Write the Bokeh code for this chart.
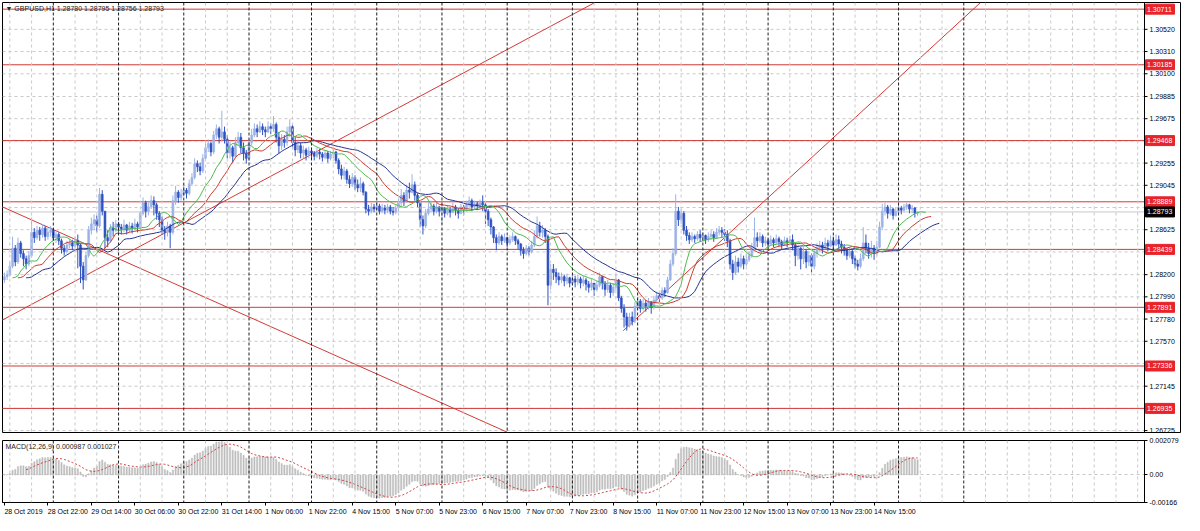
import numpy as np
import pandas as pd
from bokeh.plotting import figure
from bokeh.models import Range1d, FixedTicker, Span, Label, PrintfTickFormatter, ColumnDataSource
from bokeh.layouts import column
from bokeh.embed import file_html
from bokeh.resources import INLINE
from bokeh.core.properties import value

# ---------------- data ----------------
symbol_title = "\u25bc GBPUSD,H1 1.28780 1.28795 1.28756 1.28793"
macd_title = "MACD(12,26,9) 0.000987 0.001027"

first_open = 1.2815
close = [
    1.2818, 1.2820, 1.2828, 1.2845, 1.2832, 1.2850, 1.2840, 1.2835, 1.2830, 1.2838,
    1.2860, 1.2855, 1.2862, 1.2858, 1.2864, 1.2856, 1.2860, 1.2862, 1.2855, 1.2858,
    1.2852, 1.2845, 1.2842, 1.2848, 1.2850, 1.2847, 1.2852, 1.2848, 1.2828, 1.2815,
    1.2838, 1.2862, 1.2868, 1.2872, 1.2866, 1.2896, 1.2880, 1.2855, 1.2852, 1.2864,
    1.2862, 1.2868, 1.2865, 1.2863, 1.2867, 1.2862, 1.2866, 1.2864, 1.2868, 1.2865,
    1.2878, 1.2888, 1.2880, 1.2884, 1.2890, 1.2886, 1.2878, 1.2872, 1.2862, 1.2860,
    1.2866, 1.2860, 1.2890, 1.2898, 1.2893, 1.2896, 1.2900, 1.2897, 1.2906, 1.2912,
    1.2925, 1.2922, 1.2918, 1.2930, 1.2940, 1.2944, 1.2936, 1.2952, 1.2958, 1.2950,
    1.2955, 1.2948, 1.2935, 1.2940, 1.2932, 1.2945, 1.2950, 1.2940, 1.2935, 1.2930,
    1.2945, 1.2952, 1.2958, 1.2955, 1.2960, 1.2957, 1.2955, 1.2960, 1.2958, 1.2962,
    1.2950, 1.2942, 1.2948, 1.2945, 1.2955, 1.2960, 1.2945, 1.2938, 1.2942, 1.2935,
    1.2938, 1.2933, 1.2937, 1.2935, 1.2932, 1.2936, 1.2934, 1.2931, 1.2935, 1.2930,
    1.2934, 1.2936, 1.2928, 1.2920, 1.2914, 1.2918, 1.2910, 1.2906, 1.2912, 1.2905,
    1.2902, 1.2906, 1.2898, 1.2882, 1.2880, 1.2884, 1.2882, 1.2885, 1.2880, 1.2883,
    1.2881, 1.2884, 1.2880, 1.2879, 1.2883, 1.2888, 1.2895, 1.2890, 1.2900, 1.2898,
    1.2905, 1.2895, 1.2888, 1.2872, 1.2866, 1.2878, 1.2882, 1.2885, 1.2880, 1.2884,
    1.2880, 1.2883, 1.2878, 1.2882, 1.2879, 1.2884, 1.2881, 1.2878, 1.2884, 1.2882,
    1.2886, 1.2890, 1.2884, 1.2887, 1.2885, 1.2888, 1.2886, 1.2880, 1.2872, 1.2865,
    1.2855, 1.2850, 1.2856, 1.2852, 1.2855, 1.2850, 1.2853, 1.2856, 1.2852, 1.2849,
    1.2843, 1.2840, 1.2845, 1.2842, 1.2848, 1.2856, 1.2866, 1.2860, 1.2862, 1.2856,
    1.2810, 1.2825, 1.2822, 1.2818, 1.2815, 1.2818, 1.2814, 1.2817, 1.2812, 1.2816,
    1.2813, 1.2816, 1.2812, 1.2815, 1.2811, 1.2808, 1.2812, 1.2806, 1.2810, 1.2818,
    1.2812, 1.2806, 1.2810, 1.2803, 1.2808, 1.2815, 1.2798, 1.2788, 1.2780, 1.2772,
    1.2780, 1.2776, 1.2790, 1.2795, 1.2788, 1.2793, 1.2790, 1.2794, 1.2789, 1.2796,
    1.2800, 1.2798, 1.2805, 1.2803, 1.2815, 1.2830, 1.2840, 1.2880, 1.2872, 1.2878,
    1.2862, 1.2857, 1.2853, 1.2856, 1.2854, 1.2858, 1.2855, 1.2857, 1.2853, 1.2856,
    1.2858, 1.2855, 1.2860, 1.2862, 1.2860, 1.2858, 1.2852, 1.2830, 1.2822, 1.2832,
    1.2828, 1.2835, 1.2830, 1.2834, 1.2838, 1.2845, 1.2855, 1.2852, 1.2856, 1.2850,
    1.2852, 1.2849, 1.2853, 1.2850, 1.2854, 1.2851, 1.2848, 1.2852, 1.2850, 1.2853,
    1.2848, 1.2838, 1.2845, 1.2835, 1.2842, 1.2832, 1.2838, 1.2828, 1.2840, 1.2845,
    1.2848, 1.2845, 1.2850, 1.2847, 1.2852, 1.2848, 1.2853, 1.2849, 1.2846, 1.2843,
    1.2838, 1.2842, 1.2835, 1.2830, 1.2828, 1.2835, 1.2850, 1.2845, 1.2840, 1.2845,
    1.2840, 1.2846, 1.2865, 1.2880, 1.2884, 1.2878, 1.2882, 1.2876, 1.2880, 1.2883,
    1.2881, 1.2884, 1.2886, 1.2882, 1.2883, 1.2878, 1.28793,
]
high = [
    1.2822, 1.2824, 1.2832, 1.2856, 1.2848, 1.2855, 1.2852, 1.2843, 1.2838, 1.2842,
    1.2874, 1.2864, 1.2866, 1.2865, 1.2868, 1.2866, 1.2864, 1.2866, 1.2864, 1.2861,
    1.2860, 1.2854, 1.2848, 1.2852, 1.2854, 1.2853, 1.2856, 1.2858, 1.2850, 1.2832,
    1.2842, 1.2866, 1.2874, 1.2877, 1.2876, 1.2902, 1.2900, 1.2880, 1.2862, 1.2868,
    1.2870, 1.2872, 1.2870, 1.2868, 1.2872, 1.2868, 1.2870, 1.2869, 1.2873, 1.2870,
    1.2880, 1.2893, 1.2890, 1.2888, 1.2895, 1.2894, 1.2888, 1.2880, 1.2875, 1.2866,
    1.2870, 1.2868, 1.2895, 1.2904, 1.2900, 1.2901, 1.2904, 1.2902, 1.2910, 1.2916,
    1.2930, 1.2928, 1.2926, 1.2934, 1.2944, 1.2948, 1.2946, 1.2956, 1.2962, 1.2960,
    1.2975, 1.2960, 1.2952, 1.2946, 1.2942, 1.2950, 1.2955, 1.2954, 1.2945, 1.2938,
    1.2948, 1.2958, 1.2963, 1.2962, 1.2965, 1.2963, 1.2960, 1.2965, 1.2963, 1.2970,
    1.2964, 1.2955, 1.2953, 1.2952, 1.2960, 1.2967, 1.2962, 1.2950, 1.2948, 1.2945,
    1.2942, 1.2940, 1.2941, 1.2940, 1.2937, 1.2940, 1.2939, 1.2936, 1.2938, 1.2937,
    1.2937, 1.2940, 1.2937, 1.2930, 1.2924, 1.2922, 1.2920, 1.2914, 1.2916, 1.2914,
    1.2910, 1.2912, 1.2908, 1.2899, 1.2886, 1.2888, 1.2887, 1.2889, 1.2887, 1.2887,
    1.2886, 1.2887, 1.2886, 1.2884, 1.2886, 1.2892, 1.2901, 1.2898, 1.2905, 1.2907,
    1.2915, 1.2908, 1.2897, 1.2889, 1.2876, 1.2882, 1.2889, 1.2890, 1.2887, 1.2888,
    1.2885, 1.2887, 1.2884, 1.2886, 1.2884, 1.2888, 1.2886, 1.2883, 1.2887, 1.2886,
    1.2890, 1.2894, 1.2892, 1.2890, 1.2889, 1.2891, 1.2895, 1.2888, 1.2882, 1.2874,
    1.2866, 1.2858, 1.2860, 1.2858, 1.2859, 1.2856, 1.2857, 1.2860, 1.2857, 1.2854,
    1.2850, 1.2846, 1.2848, 1.2847, 1.2852, 1.2862, 1.2875, 1.2870, 1.2867, 1.2864,
    1.2858, 1.2830, 1.2830, 1.2826, 1.2822, 1.2822, 1.2820, 1.2821, 1.2818, 1.2820,
    1.2819, 1.2820, 1.2818, 1.2819, 1.2817, 1.2814, 1.2816, 1.2812, 1.2814, 1.2822,
    1.2819, 1.2814, 1.2815, 1.2812, 1.2812, 1.2820, 1.2816, 1.2800, 1.2792, 1.2784,
    1.2784, 1.2785, 1.2794, 1.2799, 1.2797, 1.2797, 1.2796, 1.2798, 1.2795, 1.2800,
    1.2804, 1.2803, 1.2808, 1.2808, 1.2818, 1.2834, 1.2845, 1.2896, 1.2884, 1.2882,
    1.2880, 1.2866, 1.2860, 1.2860, 1.2858, 1.2861, 1.2862, 1.2860, 1.2858, 1.2860,
    1.2862, 1.2861, 1.2864, 1.2866, 1.2865, 1.2863, 1.2862, 1.2854, 1.2834, 1.2838,
    1.2836, 1.2840, 1.2838, 1.2840, 1.2842, 1.2850, 1.2874, 1.2860, 1.2860, 1.2858,
    1.2856, 1.2854, 1.2857, 1.2855, 1.2858, 1.2856, 1.2853, 1.2856, 1.2855, 1.2857,
    1.2858, 1.2850, 1.2848, 1.2846, 1.2846, 1.2844, 1.2842, 1.2840, 1.2843, 1.2850,
    1.2852, 1.2851, 1.2855, 1.2853, 1.2857, 1.2856, 1.2858, 1.2857, 1.2852, 1.2849,
    1.2845, 1.2846, 1.2844, 1.2838, 1.2834, 1.2840, 1.2865, 1.2858, 1.2850, 1.2852,
    1.2848, 1.2852, 1.2870, 1.2887, 1.2888, 1.2886, 1.2886, 1.2883, 1.2884, 1.2886,
    1.2885, 1.2887, 1.2888, 1.2887, 1.2886, 1.2884, 1.28795,
]
low = [
    1.2812, 1.2815, 1.2818, 1.2826, 1.2828, 1.2830, 1.2836, 1.2828, 1.2825, 1.2828,
    1.2836, 1.2850, 1.2853, 1.2852, 1.2855, 1.2852, 1.2853, 1.2856, 1.2852, 1.2850,
    1.2848, 1.2840, 1.2838, 1.2840, 1.2845, 1.2843, 1.2845, 1.2826, 1.2812, 1.2806,
    1.2814, 1.2836, 1.2858, 1.2862, 1.2860, 1.2864, 1.2876, 1.2845, 1.2846, 1.2850,
    1.2856, 1.2860, 1.2860, 1.2858, 1.2860, 1.2858, 1.2860, 1.2859, 1.2862, 1.2860,
    1.2862, 1.2876, 1.2874, 1.2876, 1.2882, 1.2876, 1.2872, 1.2865, 1.2858, 1.2853,
    1.2856, 1.2845, 1.2858, 1.2886, 1.2888, 1.2890, 1.2894, 1.2892, 1.2895, 1.2904,
    1.2910, 1.2917, 1.2914, 1.2916, 1.2928, 1.2936, 1.2932, 1.2934, 1.2948, 1.2944,
    1.2946, 1.2944, 1.2930, 1.2930, 1.2926, 1.2930, 1.2942, 1.2935, 1.2928, 1.2925,
    1.2928, 1.2942, 1.2950, 1.2950, 1.2954, 1.2952, 1.2950, 1.2954, 1.2953, 1.2955,
    1.2945, 1.2935, 1.2938, 1.2940, 1.2942, 1.2950, 1.2940, 1.2932, 1.2935, 1.2930,
    1.2930, 1.2928, 1.2930, 1.2930, 1.2928, 1.2930, 1.2929, 1.2927, 1.2929, 1.2926,
    1.2928, 1.2930, 1.2925, 1.2915, 1.2910, 1.2910, 1.2906, 1.2902, 1.2903, 1.2900,
    1.2898, 1.2898, 1.2895, 1.2878, 1.2876, 1.2878, 1.2879, 1.2880, 1.2877, 1.2878,
    1.2877, 1.2878, 1.2877, 1.2876, 1.2877, 1.2880, 1.2884, 1.2885, 1.2888, 1.2892,
    1.2897, 1.2890, 1.2884, 1.2865, 1.2858, 1.2864, 1.2876, 1.2879, 1.2876, 1.2878,
    1.2875, 1.2868, 1.2874, 1.2876, 1.2874, 1.2878, 1.2876, 1.2873, 1.2877, 1.2876,
    1.2880, 1.2883, 1.2880, 1.2882, 1.2881, 1.2883, 1.2880, 1.2868, 1.2866, 1.2858,
    1.2850, 1.2843, 1.2848, 1.2848, 1.2850, 1.2846, 1.2848, 1.2851, 1.2848, 1.2844,
    1.2838, 1.2835, 1.2838, 1.2838, 1.2840, 1.2846, 1.2854, 1.2856, 1.2855, 1.2850,
    1.2791, 1.2806, 1.2815, 1.2812, 1.2810, 1.2812, 1.2809, 1.2811, 1.2808, 1.2810,
    1.2808, 1.2810, 1.2807, 1.2809, 1.2805, 1.2803, 1.2805, 1.2800, 1.2804, 1.2808,
    1.2806, 1.2800, 1.2803, 1.2798, 1.2800, 1.2805, 1.2795, 1.2784, 1.2770, 1.2767,
    1.2770, 1.2772, 1.2774, 1.2787, 1.2784, 1.2786, 1.2785, 1.2787, 1.2783, 1.2787,
    1.2793, 1.2794, 1.2796, 1.2799, 1.2802, 1.2814, 1.2828, 1.2838, 1.2866, 1.2868,
    1.2858, 1.2852, 1.2849, 1.2851, 1.2850, 1.2852, 1.2851, 1.2852, 1.2849, 1.2851,
    1.2853, 1.2851, 1.2854, 1.2857, 1.2855, 1.2852, 1.2846, 1.2825, 1.2815, 1.2820,
    1.2822, 1.2826, 1.2825, 1.2828, 1.2832, 1.2836, 1.2843, 1.2846, 1.2850, 1.2846,
    1.2847, 1.2845, 1.2848, 1.2846, 1.2849, 1.2847, 1.2844, 1.2847, 1.2846, 1.2848,
    1.2843, 1.2828, 1.2834, 1.2825, 1.2830, 1.2826, 1.2828, 1.2822, 1.2825, 1.2836,
    1.2842, 1.2840, 1.2844, 1.2842, 1.2846, 1.2843, 1.2847, 1.2844, 1.2840, 1.2838,
    1.2834, 1.2836, 1.2830, 1.2826, 1.2824, 1.2826, 1.2833, 1.2840, 1.2835, 1.2836,
    1.2834, 1.2838, 1.2845, 1.2862, 1.2876, 1.2873, 1.2876, 1.2872, 1.2875, 1.2878,
    1.2877, 1.2879, 1.2881, 1.2878, 1.2878, 1.2874, 1.28756,
]

time_labels = [
    "28 Oct 2019", "28 Oct 22:00", "29 Oct 14:00", "30 Oct 06:00", "30 Oct 22:00",
    "31 Oct 14:00", "1 Nov 06:00", "1 Nov 22:00", "4 Nov 15:00", "5 Nov 07:00",
    "5 Nov 23:00", "6 Nov 15:00", "7 Nov 07:00", "7 Nov 23:00", "8 Nov 15:00",
    "11 Nov 07:00", "11 Nov 23:00", "12 Nov 15:00", "13 Nov 07:00", "13 Nov 23:00",
    "14 Nov 15:00",
]
time_label_bars = [0, 16, 32, 48, 64, 80, 96, 112, 128, 144, 160, 176, 192, 208, 224,
                   240, 256, 272, 288, 304, 320]
day_start_bars = [18, 42, 66, 90, 113, 137, 161, 185, 209, 233, 257, 281, 305, 329, 353]

price_ticks = [1.30520, 1.30310, 1.30100, 1.29885, 1.29675, 1.29465, 1.29255, 1.29045,
               1.28835, 1.28625, 1.28415, 1.28200, 1.27990, 1.27780, 1.27570, 1.27360,
               1.27145, 1.26935, 1.26725]
level_prices = [1.30711, 1.30185, 1.29468, 1.28889, 1.28439, 1.27891, 1.27336, 1.26935]
last_price = 1.28793

macd_ticks = [-0.00166, 0.0, 0.002079]
macd_tick_labels = ["-0.00166", "0.00", "0.002079"]

# trend lines: (bar index pair, price pair)
trend_bars = [[-1.5, 217.0], [-1.5, 185.0], [227.7, 359.0]]
trend_prices = [[1.2776, 1.3077], [1.2885, 1.2671], [1.2767, 1.3077]]

# ---------------- styles / geometry ----------------
FONT = "Liberation Sans"
FS = "7px"
BULL = "#9cb2e6"
BEAR = "#2f52c2"
RED_LINE = "#d23a36"
RED_BOX = "#e8232a"
GRID = "#c8c8c8"

FRAME_W = 1142      # width of the data area (both panels)
STRIP_W = 36        # price-scale strip, kept inside the main panel frame
RIGHT_W = 38
MAIN_H = 430
X_START, X_END = -0.7, 419.5
BARS_PER_PX = (X_END - X_START) / FRAME_W
X_END_STRIP = X_END + STRIP_W * BARS_PER_PX

n = len(close)
assert len(high) == n and len(low) == n
idx = np.arange(n)
c_arr = np.array(close)
o_arr = np.array([first_open] + close[:-1])
h_arr = np.array(high)
l_arr = np.array(low)

# Alligator (SMMA of median price, shifted forward)
med = pd.Series((h_arr + l_arr) / 2.0)
def smma(s, period):
    return s.ewm(alpha=1.0 / period, adjust=False).mean().to_numpy()
jaw = smma(med, 13)
teeth = smma(med, 8)
lips = smma(med, 5)

# MACD(12,26,9)
cs = pd.Series(c_arr)
macd = (cs.ewm(span=12, adjust=False).mean() - cs.ewm(span=26, adjust=False).mean()).to_numpy()
signal = pd.Series(macd).rolling(9).mean().to_numpy()

def style_axis(ax):
    ax.axis_line_color = "black"
    ax.major_tick_line_color = "black"
    ax.major_tick_out = 3
    ax.major_tick_in = 0
    ax.minor_tick_out = 0
    ax.minor_tick_in = 0
    ax.major_label_text_font = FONT
    ax.major_label_text_font_size = FS
    ax.major_label_text_color = "black"
    ax.major_label_standoff = 2

# vertical grid positions: light every 8 bars, dark dashed day separators
light_x = [day_start_bars[0] - 16, day_start_bars[0] - 8]
for s in day_start_bars:
    light_x += [s + 8, s + 16]
v = day_start_bars[-1] + 24
while v < X_END:
    light_x.append(v)
    v += 8

def add_vgrid(p):
    for lx in light_x:
        p.add_layout(Span(location=lx, dimension="height", line_color=GRID,
                          line_dash="3 3", line_width=1))
    for s in day_start_bars:
        p.add_layout(Span(location=s, dimension="height", line_color="#1e1e1e",
                          line_dash="3 2", line_width=1))

# ---------------- main price panel ----------------
p1 = figure(frame_width=FRAME_W + STRIP_W, frame_height=MAIN_H,
            x_range=Range1d(X_START, X_END_STRIP),
            y_range=Range1d(1.26707, 1.30774), output_backend="svg",
            toolbar_location=None, x_axis_location=None, y_axis_location="right",
            min_border_left=2, min_border_right=2, min_border_top=2, min_border_bottom=3,
            background_fill_color="white", border_fill_color="white",
            outline_line_color="black")
p1.yaxis.ticker = FixedTicker(ticks=price_ticks)
p1.yaxis.formatter = PrintfTickFormatter(format="%.5f")
style_axis(p1.yaxis)
# the price scale sits in the strip at the right end of the frame
p1.yaxis.axis_line_color = None
p1.yaxis.major_tick_line_color = None
p1.yaxis.major_tick_out = 0
p1.yaxis.major_label_standoff = -(STRIP_W - 5)
p1.xgrid.visible = False
p1.ygrid.visible = False

# horizontal grid restricted to the data area
p1.segment(x0=X_START, x1=X_END, y0=price_ticks, y1=price_ticks,
           line_color=GRID, line_dash="3 3", line_width=1)
add_vgrid(p1)

# current price line and horizontal levels (data area only)
p1.segment(x0=X_START, x1=X_END, y0=[last_price], y1=[last_price],
           line_color="#c8c8c8", line_width=1)
p1.segment(x0=X_START, x1=X_END, y0=level_prices, y1=level_prices,
           line_color=RED_LINE, line_width=1)

# trend lines
for tb, tp in zip(trend_bars, trend_prices):
    p1.line(tb, tp, line_color=RED_LINE, line_width=1)

# candles
src = ColumnDataSource(dict(
    x=idx, h=h_arr, l=l_arr,
    top=np.maximum(o_arr, c_arr), bot=np.minimum(o_arr, c_arr),
    color=np.where(c_arr >= o_arr, BULL, BEAR),
))
p1.segment(x0="x", y0="l", x1="x", y1="h", line_color="color", line_width=1, source=src)
p1.vbar(x="x", width=0.7, top="top", bottom="bot", fill_color="color",
        line_color="color", line_width=0.6, source=src)

# Alligator lines
p1.line(idx + 8, jaw, line_color="#26338f", line_width=1)
p1.line(idx + 5, teeth, line_color="#cc3b2a", line_width=1)
p1.line(idx + 3, lips, line_color="#4cbb4c", line_width=1)

# price-scale line and its tick marks
p1.add_layout(Span(location=X_END, dimension="height", line_color="black", line_width=1))
p1.segment(x0=X_END, x1=X_END + 3 * BARS_PER_PX, y0=price_ticks, y1=price_ticks,
           line_color="black", line_width=1)

# price boxes drawn above the scale labels
box_src = ColumnDataSource(dict(
    y=level_prices + [last_price],
    text=[f"{v:.5f}" for v in level_prices] + [f"{last_price:.5f}"],
    fill=[RED_BOX] * len(level_prices) + ["black"],
))
r_box = p1.rect(x=X_END + 15.5 * BARS_PER_PX, y="y", width=29, width_units="screen",
                height=10, height_units="screen", fill_color="fill", line_color="fill",
                source=box_src)
r_txt = p1.text(x=X_END + 2.5 * BARS_PER_PX, y="y", text="text", text_color="white",
                text_font=value(FONT), text_font_size=value(FS), text_baseline="middle",
                text_align="left", source=box_src)
r_box.level = "overlay"
r_txt.level = "overlay"

p1.add_layout(Label(x=X_START, y=1.30774, x_offset=3, y_offset=-2,
                    text=symbol_title, text_color="#222222", text_font=FONT,
                    text_font_size=FS, text_baseline="top"))

# ---------------- MACD panel ----------------
p2 = figure(frame_width=FRAME_W, frame_height=62, x_range=Range1d(X_START, X_END),
            y_range=Range1d(macd_ticks[0], macd_ticks[-1]), output_backend="svg",
            toolbar_location=None, x_axis_location="below", y_axis_location="right",
            min_border_left=2, min_border_right=RIGHT_W, min_border_top=5,
            min_border_bottom=2,
            background_fill_color="white", border_fill_color="white",
            outline_line_color="black")
p2.yaxis.ticker = FixedTicker(ticks=macd_ticks)
p2.yaxis.major_label_overrides = dict(zip(macd_ticks, macd_tick_labels))
style_axis(p2.yaxis)
p2.xaxis.ticker = FixedTicker(ticks=time_label_bars)
p2.xaxis.major_label_overrides = dict(zip(time_label_bars, time_labels))
style_axis(p2.xaxis)
p2.xaxis.major_label_orientation = -0.0001
p2.xaxis.major_label_standoff = 6
p2.xgrid.visible = False
p2.ygrid.grid_line_color = GRID
p2.ygrid.grid_line_dash = "3 3"
add_vgrid(p2)

p2.vbar(x=idx, top=macd, bottom=0, width=0.45, fill_color="#bdbdbd", line_color="#bdbdbd",
        line_width=0.5)
p2.line(idx, signal, line_color="#d04040", line_dash="2 2", line_width=1)
p2.add_layout(Label(x=X_START, y=macd_ticks[-1], x_offset=3, y_offset=-2,
                    text=macd_title, text_color="#222222", text_font=FONT,
                    text_font_size=FS, text_baseline="top"))

layout = column(p1, p2, spacing=0)
open("out.html", "w").write(file_html(layout, INLINE))
